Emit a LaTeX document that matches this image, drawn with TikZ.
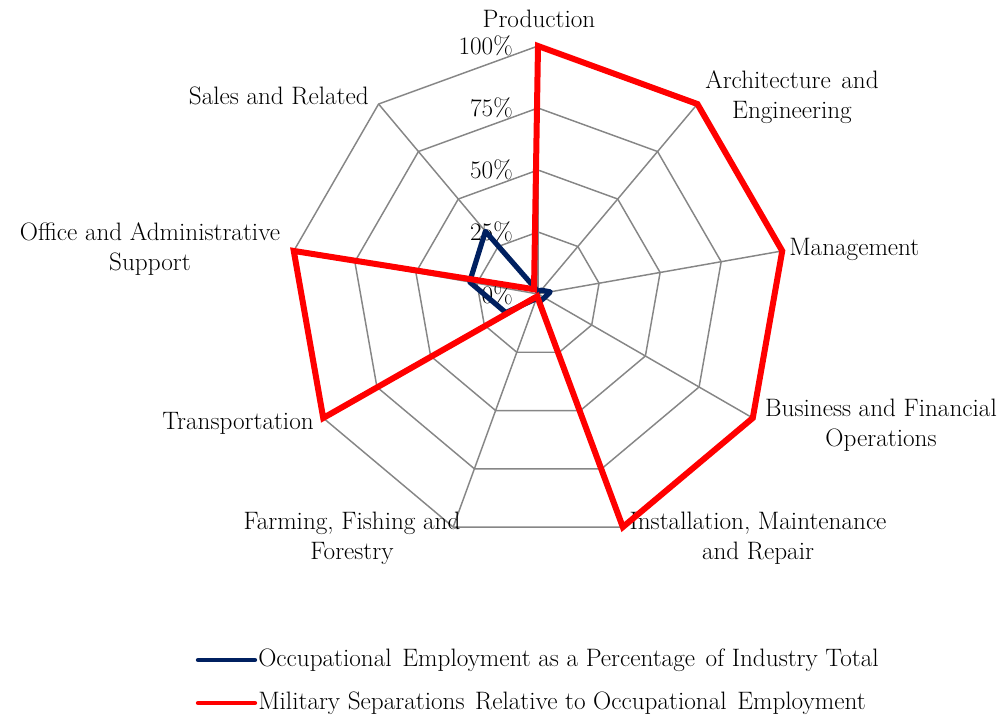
\documentclass[tikz,border=0pt]{standalone}
\usetikzlibrary{calc}
\definecolor{navy}{RGB}{0,32,96}
\definecolor{gridgray}{RGB}{134,134,134}
\definecolor{sepred}{RGB}{255,0,0}
\newcommand{\wsp}{\ \hspace{0.12em}}
\begin{document}
\begin{tikzpicture}[x=0.75pt,y=-0.75pt,
  every node/.style={font=\fontsize{18.9}{22.5}\selectfont, inner sep=0pt},
  gridline/.style={draw=gridgray, line width=1.1pt},
  empline/.style={draw=navy, line width=3.9pt, line join=round, line cap=round},
  sepline/.style={draw=sepred, line width=4.5pt, line join=miter, miter limit=10},
  legline/.style={line width=3.2pt, line cap=round},
  axlabel/.style={align=center},
  ticklabel/.style={anchor=east}]
\useasboundingbox (0,0) rectangle (1002,717);
\coordinate (c) at (538,294);
% outer vertices
\foreach \i in {0,...,8} {
  \coordinate (o\i) at ($(c)+({248*cos(90-40*\i)},{-248*sin(90-40*\i)})$);
}
% rings
\foreach \f in {0.25,0.5,0.75,1} {
  \draw[gridline] ($(c)!\f!(o0)$) -- ($(c)!\f!(o1)$) -- ($(c)!\f!(o2)$) -- ($(c)!\f!(o3)$) -- ($(c)!\f!(o4)$) -- ($(c)!\f!(o5)$) -- ($(c)!\f!(o6)$) -- ($(c)!\f!(o7)$) -- ($(c)!\f!(o8)$) -- cycle;
}
% spokes
\foreach \i in {0,...,8} { \draw[gridline] (c) -- (o\i); }
% tick labels
\node[ticklabel] (t100) at (513,46) {100\%};
\node[ticklabel] (t75) at (513,108) {75\%};
\node[ticklabel] (t50) at (513,170) {50\%};
\node[ticklabel] (t25) at (513,232) {25\%};
\node[ticklabel] (t0) at (513,295) {0\%};
% axis labels
\node[axlabel] (lprod) at (539,19) {Production};
\node[axlabel] (larch) at (792,97) {Architecture\wsp and\\Engineering};
\node[anchor=west] (lman) at (789,249) {Management};
\node[axlabel] (lbus) at (881,425) {Business and Financial\\Operations};
\node[axlabel] (linst) at (758,538) {Installation, Maintenance\\and Repair};
\node[axlabel] (lfarm) at (352,538) {Farming, Fishing and\\Forestry};
\node[anchor=east] (ltrans) at (314,423) {Transportation};
\node[axlabel] (loff) at (150,249) {Office and Administrative\\Support};
\node[anchor=east] (lsales) at (369,96) {Sales and Related};
% data points
\foreach \v [count=\j from 0] in {0.01,0.02,0.05,0.03,0.03,0.02,0.15,0.28,0.33} {
  \coordinate (b\j) at ($(c)!\v!(o\j)$);
}
\foreach \v [count=\j from 0] in {1,1,1,1,1,0.01,1,1,0.025} {
  \coordinate (r\j) at ($(c)!\v!(o\j)$);
}
\draw[empline] (b0) -- (b1) -- (b2) -- (b3) -- (b4) -- (b5) -- (b6) -- (b7) -- (b8) -- cycle;
\draw[sepline] (r0) -- (r1) -- (r2) -- (r3) -- (r4) -- (r5) -- (r6) -- (r7) -- (r8) -- cycle;
% legend
\coordinate (la1) at (198,660);
\coordinate (la2) at (255,660);
\coordinate (lb1) at (198,703);
\coordinate (lb2) at (255,703);
\draw[legline, navy] (la1) -- (la2);
\draw[legline, sepred] (lb1) -- (lb2);
\node[anchor=west] (leg1) at (258,660) {Occupational\wsp Employment as a Percentage\wsp of Industry Total};
\node[anchor=west] (leg2) at (258,703) {Military Separations\wsp Relative to Occupational\wsp Employment};
\end{tikzpicture}
\end{document}
